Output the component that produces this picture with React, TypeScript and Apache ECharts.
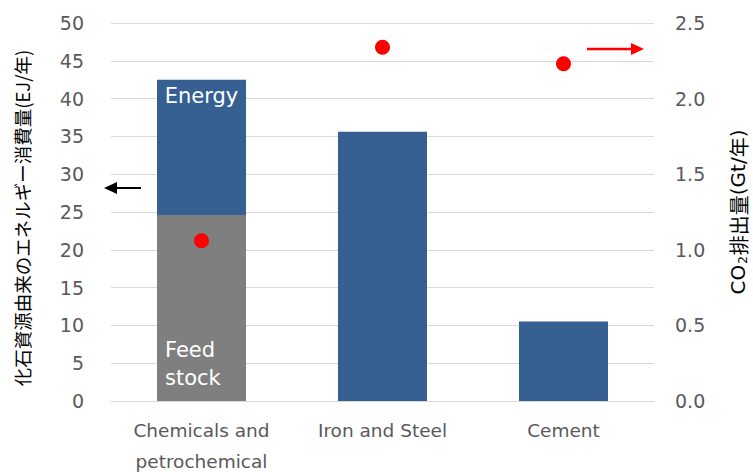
import React, { useEffect, useRef } from "react";
import * as echarts from "echarts";

const categories = ["Chemicals and\npetrochemical", "Iron and Steel", "Cement"];
const feedstock = [24.6, null, null];
const energy = [17.9, 35.6, 10.5];
const co2 = [1.06, 2.34, 2.23];
const leftTicks = { min: 0, max: 50, interval: 5 };
const rightTicks = { min: 0, max: 2.5, interval: 0.5 };

const FONT = "'DejaVu Sans', 'Noto Sans CJK JP', sans-serif";
const JFONT = "'Noto Sans CJK JP', sans-serif";
const TXT = "#595959";

export default function App() {
  const ref = useRef<HTMLDivElement>(null);
  useEffect(() => {
    const chart = echarts.init(ref.current!, null, { renderer: "svg" });
    chart.setOption({
      animation: false,
      textStyle: { fontFamily: FONT },
      grid: { left: 111, right: 99, top: 23, bottom: 71, containLabel: false, outerBoundsMode: "none" },
      xAxis: {
        type: "category",
        data: categories,
        axisLine: { show: true, lineStyle: { color: "#d9d9d9" } },
        axisTick: { show: false },
        axisLabel: { color: TXT, fontSize: 18.5, fontFamily: FONT, lineHeight: 31, margin: 14, interval: 0 },
      },
      yAxis: [
        {
          type: "value",
          ...leftTicks,
          name: "化石資源由来のエネルギー消費量(EJ/年)",
          nameLocation: "middle",
          nameGap: 79,
          nameRotate: 90,
          nameTextStyle: { color: "#000", fontSize: 18.5, fontFamily: JFONT, lineHeight: 20, padding: [0, 12, 0, 0] },
          axisLine: { show: false },
          axisTick: { show: false },
          axisLabel: { color: TXT, fontSize: 19, fontFamily: FONT, margin: 27 },
          splitLine: { lineStyle: { color: "#d9d9d9", width: 1 } },
        },
        {
          type: "value",
          ...rightTicks,
          name: "{a|CO}{s|2}{b|排出量}{a|(Gt/}{b|年}{a|)}",
          nameLocation: "middle",
          nameGap: 73,
          nameRotate: 90,
          nameTextStyle: {
            rich: {
              a: { color: "#000", fontSize: 20, fontFamily: FONT, lineHeight: 22 },
              s: { color: "#000", fontSize: 12, fontFamily: FONT, verticalAlign: "bottom", lineHeight: 22, padding: [8, 1, 0, 1] },
              b: { color: "#000", fontSize: 20, fontFamily: JFONT, lineHeight: 22 },
            },
          },
          axisLine: { show: false },
          axisTick: { show: false },
          axisLabel: {
            color: TXT,
            fontSize: 19,
            fontFamily: FONT,
            margin: 21,
            formatter: (v: number) => v.toFixed(1),
          },
          splitLine: { show: false },
        },
      ],
      series: [
        {
          type: "bar",
          stack: "s",
          barWidth: 89,
          itemStyle: { color: "#7f7f7f" },
          data: feedstock.map((v, i) =>
            i === 0
              ? {
                  value: v,
                  label: {
                    show: true,
                    position: "insideBottomLeft",
                    formatter: "Feed\nstock",
                    color: "#fff",
                    fontSize: 21,
                    lineHeight: 28,
                    fontFamily: FONT,
                    offset: [3, -4],
                  },
                }
              : v
          ),
        },
        {
          type: "bar",
          stack: "s",
          barWidth: 89,
          itemStyle: { color: "#366092" },
          data: energy.map((v, i) =>
            i === 0
              ? {
                  value: v,
                  label: {
                    show: true,
                    position: "insideTop",
                    formatter: "Energy",
                    color: "#fff",
                    fontSize: 21,
                    fontFamily: FONT,
                    distance: 6,
                  },
                }
              : v
          ),
        },
        {
          type: "scatter",
          yAxisIndex: 1,
          symbol: "circle",
          symbolSize: 15,
          itemStyle: { color: "#ff0000", opacity: 1 },
          data: co2,
          z: 5,
        },
      ],
      graphic: [
        { type: "line", shape: { x1: 112, y1: 188, x2: 141, y2: 188 }, style: { stroke: "#000", lineWidth: 2 } },
        { type: "polygon", shape: { points: [[104, 188], [117, 182], [117, 194]] }, style: { fill: "#000" } },
        { type: "line", shape: { x1: 587, y1: 49, x2: 632, y2: 49 }, style: { stroke: "#ff0000", lineWidth: 2.5 } },
        { type: "polygon", shape: { points: [[644, 49], [631, 43], [631, 55]] }, style: { fill: "#ff0000" } },
      ],
    });
    return () => chart.dispose();
  }, []);
  return (
    <div
      ref={ref}
      style={{ position: "fixed", left: 0, top: 0, width: 753, height: 472, background: "#fff" }}
    />
  );
}
